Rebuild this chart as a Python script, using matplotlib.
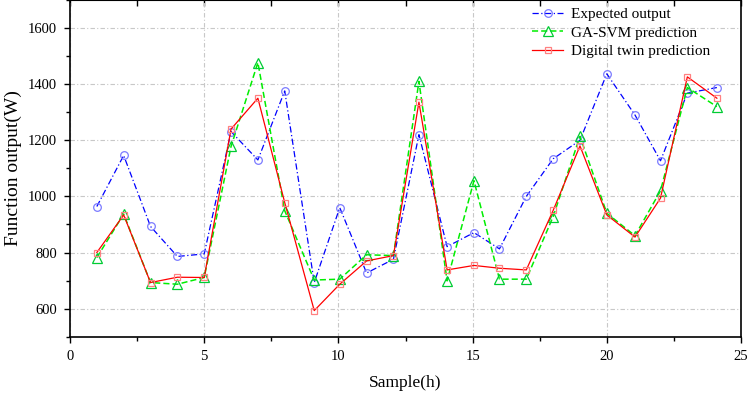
import numpy as np
import matplotlib.pyplot as plt
from matplotlib.ticker import MultipleLocator

# sample index (hours) and the three series
hours = [1, 2, 3, 4, 5, 6, 7, 8, 9.1, 10.05, 11.05, 12.05,
         13, 14.05, 15.05, 16, 17, 18, 19, 20, 21.05, 22, 23, 24.1]
expected = [964, 1146, 893, 786, 795, 1231, 1130, 1376, 693, 960, 727, 776,
            1220, 821, 871, 813, 1000, 1134, 1200, 1437, 1290, 1127, 1368, 1388]
ga_svm = [782, 937, 693, 687, 711, 1178, 1477, 949, 702, 705, 792, 789,
          1410, 699, 1056, 705, 705, 928, 1214, 940, 860, 1020, 1388, 1320]
twin = [800, 934, 693, 712, 711, 1240, 1350, 978, 593, 687, 770, 789,
        1336, 738, 754, 744, 738, 950, 1180, 934, 855, 994, 1426, 1350]

plt.rcParams['font.family'] = ['Liberation Serif', 'DejaVu Serif']

fig = plt.figure(figsize=(7.47, 3.95), dpi=100)
ax = fig.add_axes([0.0937, 0.1476, 0.8983, 0.8524])

ax.plot(hours, expected, color='#0000ff', lw=0.9, ls=(0, (5, 2, 1, 2)),
        marker='o', ms=5.5, mfc='none', mec='#7b7bff', mew=0.9,
        label='Expected output')
ax.plot(hours, ga_svm, color='#00ee00', lw=1.1, ls=(0, (4, 2)),
        marker='^', ms=7.5, mfc='none', mec='#00cc33', mew=0.9,
        label='GA-SVM prediction')
ax.plot(hours, twin, color='#ff0000', lw=0.9, ls='-',
        marker='s', ms=5, mfc='none', mec='#ff8080', mew=0.9,
        label='Digital twin prediction')

ax.set_xlim(0, 25)
ax.set_ylim(500, 1700)
ax.xaxis.set_major_locator(MultipleLocator(5))
ax.xaxis.set_minor_locator(MultipleLocator(2.5))
ax.yaxis.set_minor_locator(MultipleLocator(100))
ax.set_yticks([600, 800, 1000, 1200, 1400, 1600])

ax.grid(True, which='major', color='#c8c8c8', lw=0.8, ls=(0, (4, 2, 1, 2)))
ax.tick_params(which='major', direction='out', length=4.5, width=1.0,
               labelsize=10.5, right=False, pad=5)
ax.tick_params(which='minor', direction='out', length=3, width=1.0, right=False)
for sp in ax.spines.values():
    sp.set_linewidth(1.2)

# inward ticks along the top edge
top = ax.secondary_xaxis('top')
top.xaxis.set_major_locator(MultipleLocator(5))
top.xaxis.set_minor_locator(MultipleLocator(2.5))
top.tick_params(which='both', direction='in', length=4, width=1.0, labeltop=False)

ax.set_xlabel('Sample(h)', fontsize=12.5, labelpad=9)
ax.set_ylabel('Function output(W)', fontsize=14, labelpad=4)

ax.legend(loc='upper left', bbox_to_anchor=(0.68, 0.995), frameon=False,
          prop={'size': 11}, handlelength=2.0, handletextpad=0.5,
          labelspacing=0.3, borderaxespad=0)

fig.savefig('out.png', dpi=100)
